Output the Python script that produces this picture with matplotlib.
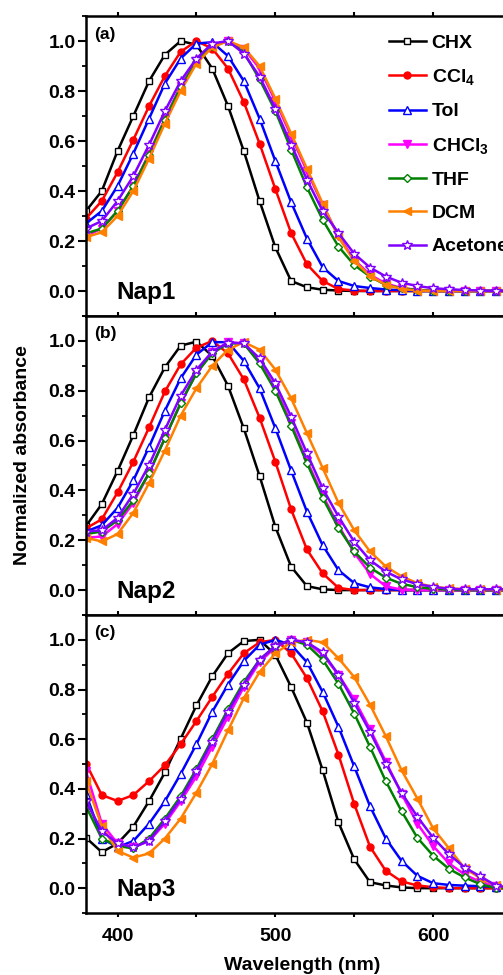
import matplotlib
matplotlib.use('Agg')
import matplotlib.pyplot as plt
from matplotlib.ticker import MultipleLocator, FormatStrFormatter

plt.rcParams['font.family'] = ['Liberation Sans', 'DejaVu Sans']
plt.rcParams['font.weight'] = 'bold'
plt.rcParams['mathtext.fontset'] = 'custom'
plt.rcParams['mathtext.rm'] = 'Liberation Sans:bold'
plt.rcParams['mathtext.bf'] = 'Liberation Sans:bold'
plt.rcParams['mathtext.default'] = 'bf'

# ---------------- data ----------------
wavelength = [380, 390, 400, 410, 420, 430, 440, 450, 460, 470, 480, 490, 500, 510,
              520, 530, 540, 550, 560, 570, 580, 590, 600, 610, 620, 630, 640, 650]

solvents = ['CHX', 'CCl$_4$', 'Tol', 'CHCl$_3$', 'THF', 'DCM', 'Acetone']
panel_labels = ['(a)', '(b)', '(c)']
compound_names = ['Nap1', 'Nap2', 'Nap3']

# Nap1
a_chx = [.32, .40, .56, .70, .84, .945, 1.0, .985, .89, .74, .56, .36, .175, .04, .015, .005, .002,
         0, 0, 0, 0, 0, 0, 0, 0, 0, 0, 0]
a_ccl4 = [.29, .36, .475, .605, .74, .86, .957, 1.0, .97, .89, .756, .59, .408, .232, .107, .04, .008,
          .002, 0, 0, 0, 0, 0, 0, 0, 0, 0, 0]
a_tol = [.27, .32, .42, .55, .69, .83, .93, .99, .995, .94, .84, .69, .52, .355, .21, .095, .04, .02,
         .012, .006, .003, 0, 0, 0, 0, 0, 0, 0]
a_chcl3 = [.22, .25, .32, .42, .55, .69, .82, .92, .98, 1.0, .97, .89, .76, .62, .48, .345, .22, .125,
           .065, .03, .012, .005, 0, 0, 0, 0, 0, 0]
a_thf = [.23, .25, .32, .42, .545, .685, .815, .915, .98, 1.0, .955, .847, .72, .566, .415, .285, .178,
         .104, .058, .024, .011, .004, 0, 0, 0, 0, 0, 0]
a_dcm = [.215, .235, .30, .40, .53, .67, .80, .91, .975, 1.0, .975, .90, .77, .63, .49, .35, .215, .12,
         .06, .025, .008, .002, 0, 0, 0, 0, 0, 0]
a_acetone = [.25, .28, .36, .46, .585, .72, .84, .93, .99, 1.0, .95, .858, .73, .586, .446, .32, .232,
             .149, .094, .058, .033, .02, .011, .007, .004, .002, 0, 0]

# Nap2
b_chx = [.257, .345, .478, .622, .774, .894, .981, .997, .94, .82, .649, .458, .254, .094, .016, .003,
         0, 0, 0, 0, 0, 0, 0, 0, 0, 0, 0, 0]
b_ccl4 = [.248, .284, .392, .515, .653, .797, .906, .973, 1.0, .95, .846, .692, .515, .324, .163, .067,
          .009, 0, 0, 0, 0, 0, 0, 0, 0, 0, 0, 0]
b_tol = [.235, .26, .33, .44, .575, .72, .85, .945, .995, .995, .92, .81, .65, .48, .315, .18, .08,
         .028, .011, .004, 0, 0, 0, 0, 0, 0, 0, 0]
b_chcl3 = [.21, .215, .265, .35, .47, .61, .75, .87, .955, .995, .99, .915, .81, .67, .52, .38, .26,
           .15, .065, .015, .002, 0, 0, 0, 0, 0, 0, 0]
b_thf = [.225, .235, .28, .36, .47, .61, .75, .87, .95, .99, .99, .91, .80, .66, .51, .37, .25, .155,
         .09, .05, .025, .012, .005, .002, 0, 0, 0, 0]
b_dcm = [.21, .195, .225, .31, .43, .56, .70, .81, .90, .965, .995, .965, .885, .77, .63, .49, .35,
         .24, .155, .095, .055, .028, .013, .007, .004, .003, .002, 0]
b_acetone = [.235, .24, .29, .386, .502, .643, .78, .884, .957, .993, .99, .93, .83, .696, .55, .408,
             .295, .194, .12, .074, .043, .024, .013, .005, .003, .003, .003, .003]

# Nap3
c_chx = [.203, .145, .18, .248, .351, .466, .602, .736, .853, .946, .995, 1.0, .94, .81, .667, .475,
         .265, .116, .024, .011, .003, 0, 0, 0, 0, 0, 0, 0]
c_ccl4 = [.502, .375, .351, .375, .431, .495, .58, .673, .77, .863, .946, .99, 1.0, .946, .846, .712,
          .538, .339, .167, .07, .027, .011, .004, 0, 0, 0, 0, 0]
c_tol = [.38, .20, .165, .19, .26, .35, .46, .58, .71, .82, .915, .98, 1.0, .98, .91, .79, .65, .49,
         .33, .2, .11, .05, .02, .013, .01, .008, .005, .003]
c_chcl3 = [.47, .26, .18, .165, .19, .26, .35, .45, .57, .69, .81, .91, .97, 1.0, .99, .94, .86, .76,
           .64, .51, .38, .26, .17, .1, .055, .025, .008, 0]
c_thf = [.33, .2, .17, .16, .2, .28, .37, .48, .60, .72, .83, .92, .975, 1.0, .98, .92, .823, .703,
         .569, .431, .31, .203, .131, .078, .043, .016, 0, 0]
c_dcm = [.43, .25, .15, .123, .14, .2, .28, .385, .5, .635, .765, .87, .945, .99, 1.0, .99, .926, .85,
         .739, .612, .475, .361, .241, .161, .08, .04, .011, 0]
c_acetone = [.35, .23, .18, .165, .19, .27, .36, .47, .59, .71, .82, .92, .975, 1.0, .99, .95, .86,
             .747, .63, .502, .384, .288, .203, .137, .083, .047, .01, 0]

panels = [
    [a_chx, a_ccl4, a_tol, a_chcl3, a_thf, a_dcm, a_acetone],
    [b_chx, b_ccl4, b_tol, b_chcl3, b_thf, b_dcm, b_acetone],
    [c_chx, c_ccl4, c_tol, c_chcl3, c_thf, c_dcm, c_acetone],
]

# ---------------- styles ----------------
colors = ['#000000', '#FF0000', '#0000FF', '#FF00FF', '#008000', '#FF8000', '#8000FF']
markers = ['s', 'o', '^', 'v', 'D', '<', '*']
mfaces = ['white', '#FF0000', 'white', '#FF00FF', 'white', '#FF8000', 'white']
msizes = [4.5, 5, 6, 6, 4.5, 6, 7]

fig = plt.figure(figsize=(5.03, 9.75), dpi=100)
W, H = 503.0, 975.0
left_px, right_px = 86, 512
bounds = [(16, 316), (316, 615), (615, 913)]

axes = []
for i, (top, bot) in enumerate(bounds):
    ax = fig.add_axes([left_px / W, 1 - bot / H, (right_px - left_px) / W, (bot - top) / H])
    for j, ys in enumerate(panels[i]):
        ax.plot(wavelength, ys, color=colors[j], lw=1.8, marker=markers[j],
                markersize=msizes[j], markerfacecolor=mfaces[j], markeredgecolor=colors[j],
                markeredgewidth=1.0, label=solvents[j])
    ax.set_xlim(380, 650)
    ax.set_ylim(-0.1, 1.1)
    ax.xaxis.set_major_locator(MultipleLocator(100))
    ax.xaxis.set_minor_locator(MultipleLocator(50))
    ax.yaxis.set_major_locator(MultipleLocator(0.2))
    ax.yaxis.set_minor_locator(MultipleLocator(0.1))
    ax.yaxis.set_major_formatter(FormatStrFormatter('%.1f'))
    for s in ax.spines.values():
        s.set_linewidth(1.8)
    ax.tick_params(axis='y', which='major', direction='out', length=5.5, width=1.5,
                   labelsize=14, pad=2)
    ax.tick_params(axis='y', which='minor', direction='out', length=3, width=1.3)
    ax.tick_params(axis='x', which='both', direction='out', length=3, width=1.5,
                   top=True, bottom=True, labelsize=14, pad=8)
    if i < 2:
        ax.tick_params(axis='x', labelbottom=False)
    for lab in ax.get_xticklabels() + ax.get_yticklabels():
        lab.set_fontweight('bold')
    ax.text(0.02, 0.965, panel_labels[i], transform=ax.transAxes, fontsize=12.5,
            fontweight='bold', ha='left', va='top')
    ax.text(418, -0.005, compound_names[i], fontsize=17.5, fontweight='bold',
            ha='center', va='center')
    axes.append(ax)

leg = axes[0].legend(loc='upper left', bbox_to_anchor=(0.711, 0.94), frameon=False,
                     handlelength=1.9, handletextpad=0.3, labelspacing=0.8,
                     borderpad=0, borderaxespad=0, prop={'size': 14, 'weight': 'bold'})

fig.text(302 / W, 1 - 965 / H, 'Wavelength (nm)', fontsize=14, fontweight='bold',
         ha='center', va='center')
fig.text(22.5 / W, 1 - 455 / H, 'Normalized absorbance', fontsize=14, fontweight='bold',
         ha='center', va='center', rotation=90)

fig.savefig('out.png', dpi=100)
